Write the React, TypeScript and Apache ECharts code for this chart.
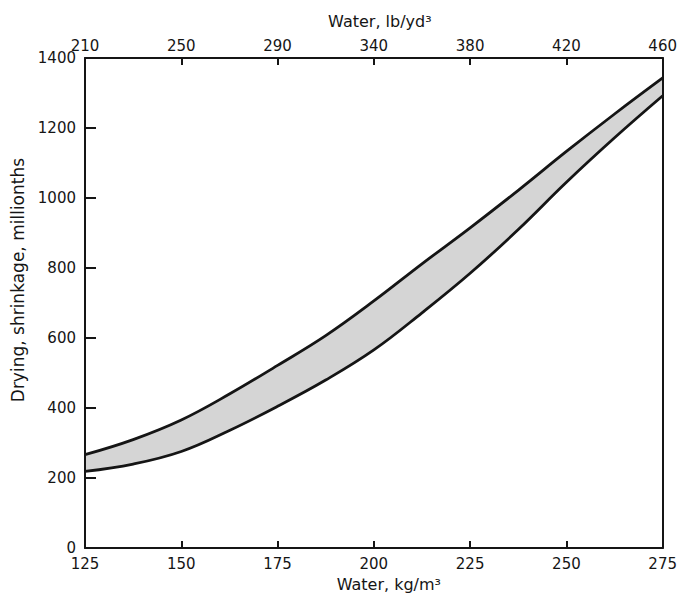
import React, { useEffect, useRef } from "react";
import * as echarts from "echarts";

// Water content, kg/m^3 (bottom axis)
const waterKg = [125, 137.5, 150, 162.5, 175, 187.5, 200, 212.5, 225, 237.5, 250, 262.5, 275];
// Upper and lower bounds of drying shrinkage, millionths
const upperShrinkage = [267, 310, 366, 440, 522, 607, 706, 812, 915, 1022, 1133, 1240, 1343];
const lowerShrinkage = [219, 240, 276, 336, 405, 480, 566, 672, 785, 910, 1045, 1172, 1292];
// Top axis tick labels (lb/yd^3) at the bottom-axis tick positions
const topTickLabels = ["210", "250", "290", "340", "380", "420", "460"];

const FONT = "'DejaVu Sans', 'Liberation Sans', Arial, sans-serif";
const INK = "#151515";
const LABEL_SIZE = 15;
const NAME_SIZE = 16;

export default function App() {
  const ref = useRef<HTMLDivElement>(null);

  useEffect(() => {
    if (!ref.current) return;
    const chart = echarts.init(ref.current, null, { renderer: "svg" });

    const lowerData = waterKg.map((x, i) => [x, lowerShrinkage[i]]);
    const upperData = waterKg.map((x, i) => [x, upperShrinkage[i]]);

    const tickLine = { lineStyle: { color: INK, width: 2 } };
    const labelStyle = { fontFamily: FONT, fontSize: LABEL_SIZE, color: INK };
    const nameStyle = { fontFamily: FONT, fontSize: NAME_SIZE, color: INK };

    chart.setOption({
      animation: false,
      backgroundColor: "#ffffff",
      grid: { left: 85, right: 15, top: 58, bottom: 46, containLabel: false },
      xAxis: [
        {
          type: "value",
          position: "bottom",
          min: 125,
          max: 275,
          interval: 25,
          name: "Water, kg/m³",
          nameLocation: "middle",
          nameGap: 26,
          nameTextStyle: { ...nameStyle, padding: [0, 0, 0, 30] },
          axisLine: { show: true, onZero: false, ...tickLine },
          axisTick: { show: true, inside: true, length: 7, ...tickLine },
          axisLabel: { margin: 8, ...labelStyle },
          splitLine: { show: false },
          z: 10,
        },
        {
          type: "value",
          position: "top",
          min: 125,
          max: 275,
          interval: 25,
          name: "Water, lb/yd³",
          nameLocation: "middle",
          nameGap: 29,
          nameTextStyle: { ...nameStyle, padding: [0, 0, 0, 12] },
          axisLine: { show: true, onZero: false, ...tickLine },
          axisTick: { show: true, inside: true, length: 7, ...tickLine },
          axisLabel: {
            margin: 5,
            ...labelStyle,
            formatter: (v: number) => topTickLabels[Math.round((v - 125) / 25)] ?? "",
          },
          splitLine: { show: false },
          z: 10,
        },
      ],
      yAxis: [
        {
          type: "value",
          position: "left",
          min: 0,
          max: 1400,
          interval: 200,
          name: "Drying, shrinkage, millionths",
          nameLocation: "middle",
          nameGap: 54,
          nameTextStyle: { ...nameStyle, fontSize: 17, padding: [0, 0, 0, 46] },
          axisLine: { show: true, onZero: false, ...tickLine },
          axisTick: { show: true, inside: true, length: 11, ...tickLine },
          axisLabel: { margin: 9, ...labelStyle, formatter: (v: number) => String(v) },
          splitLine: { show: false },
          z: 10,
        },
        {
          type: "value",
          position: "right",
          min: 0,
          max: 1400,
          interval: 200,
          axisLine: { show: true, onZero: false, ...tickLine },
          axisTick: { show: false },
          axisLabel: { show: false },
          splitLine: { show: false },
          z: 10,
        },
      ],
      series: [
        {
          name: "bandUpperFill",
          type: "line",
          data: upperData,
          smooth: 0.4,
          symbol: "none",
          lineStyle: { opacity: 0 },
          areaStyle: { color: "#d5d5d5", opacity: 1, origin: "start" },
          silent: true,
          z: 1,
        },
        {
          name: "bandLowerMask",
          type: "line",
          data: lowerData,
          smooth: 0.4,
          symbol: "none",
          lineStyle: { opacity: 0 },
          areaStyle: { color: "#ffffff", opacity: 1, origin: "start" },
          silent: true,
          z: 2,
        },
        {
          name: "Upper",
          type: "line",
          data: upperData,
          smooth: 0.4,
          symbol: "none",
          lineStyle: { color: INK, width: 2.8 },
          z: 5,
        },
        {
          name: "Lower",
          type: "line",
          data: lowerData,
          smooth: 0.4,
          symbol: "none",
          lineStyle: { color: INK, width: 2.8 },
          z: 5,
        },
      ],
    });

    return () => chart.dispose();
  }, []);

  return (
    <div
      ref={ref}
      style={{ position: "fixed", left: 0, top: 0, width: 680, height: 597, background: "#fff" }}
    />
  );
}
